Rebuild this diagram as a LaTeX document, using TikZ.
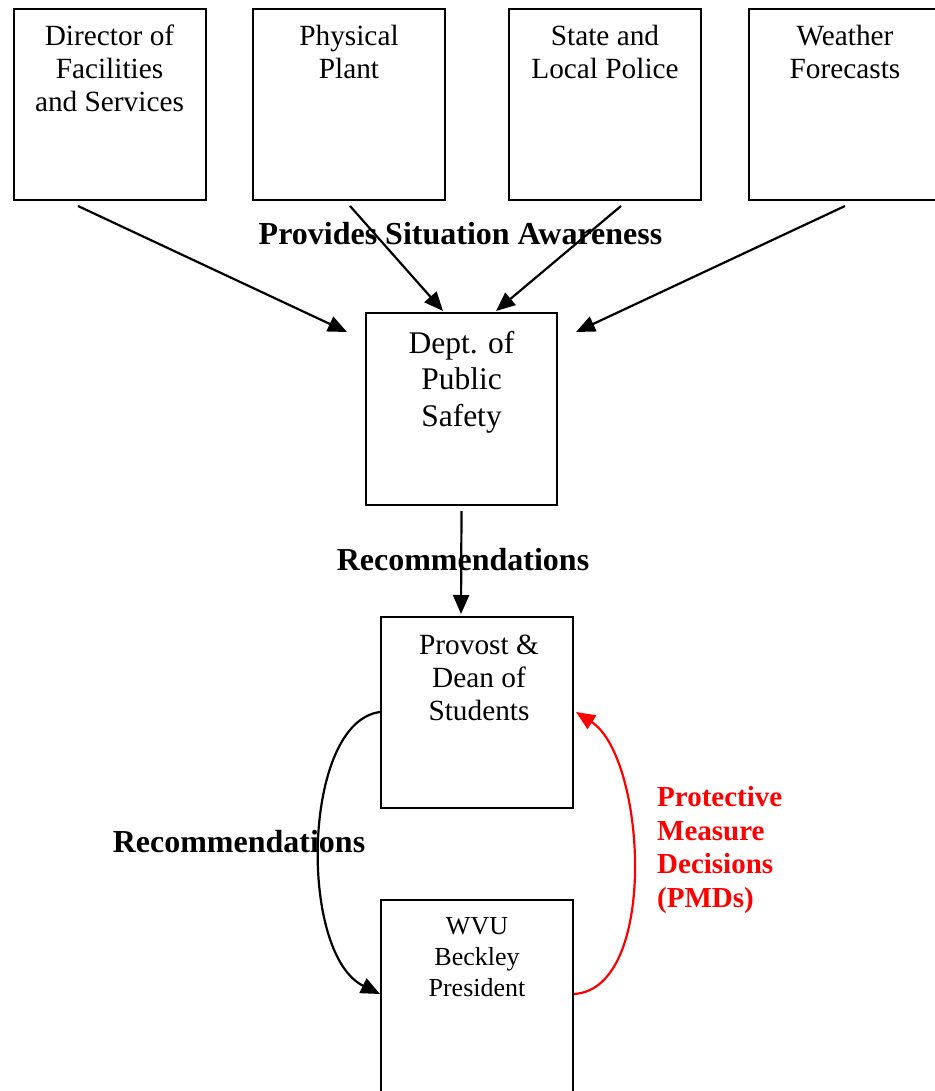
\documentclass[tikz,border=0pt]{standalone}
\usepackage{fontspec}
\setmainfont{Liberation Serif}
\usetikzlibrary{arrows.meta,calc}
\definecolor{pmdred}{RGB}{255,0,0}
\tikzset{
  box/.style={draw, line width=2pt, minimum width=192pt, minimum height=191pt, inner sep=0pt},
  txt/.style={anchor=north, align=center, inner sep=0pt, font=\fontsize{29.3}{33}\selectfont},
  lbl/.style={anchor=base, inner sep=0pt, font=\bfseries\fontsize{32}{36}\selectfont},
  arr/.style={line width=2.2pt, -{Triangle[length=19pt,width=16pt]}},
}
\newcommand{\firststrut}{\rule{0pt}{24pt}}
\begin{document}
\begin{tikzpicture}[x=1pt,y=-1pt]
\useasboundingbox (0,0) rectangle (934,1091);
% boxes
\node[box] (b1) at (109.5,104.5) {};
\node[box] (b2) at (349,104.5) {};
\node[box] (b3) at (605,104.5) {};
\node[box] (b4) at (845,104.5) {};
\node[box, minimum width=191pt, minimum height=192pt] (dps) at (461.5,409) {};
\node[box] (prov) at (477,712.5) {};
\node[box, minimum height=200pt] (pres) at (477,1000) {};
% box texts
\node[txt] (t1) at (109.5,21.5) {\firststrut Director of\\Facilities\\and Services};
\node[txt] (t2) at (349,21.5) {\firststrut Physical\\Plant};
\node[txt] (t3) at (605,21.5) {\firststrut State and\\Local Police};
\node[txt] (t4) at (845,21.5) {\firststrut Weather\\Forecasts};
\node[txt, font=\fontsize{31.5}{36.5}\selectfont] (t5) at (461.5,327) {\rule{0pt}{26pt}Dept. of\\Public\\Safety};
\node[txt] (t6) at (479,630.5) {\firststrut Provost \&\\Dean of\\Students};
\node[txt, font=\fontsize{26}{31}\selectfont] (t7) at (477,912) {\rule{0pt}{22pt}WVU\\Beckley\\President};
% labels
\node[lbl] (l1) at (460.5,244) {Provides Situation Awareness};
\node[lbl] (l2) at (463,570) {Recommendations};
\node[lbl] (l3) at (239,852) {Recommendations};
\node[txt, anchor=north west, align=left, font=\bfseries\fontsize{29}{33.5}\selectfont, text=pmdred] (l4) at (657,783) {\rule{0pt}{23.5pt}Protective\\Measure\\Decisions\\(PMDs)};
% connector ends
\coordinate (s1) at ($(b1.south)+(-31.5,5)$);
\coordinate (e1) at ($(dps.north west)+(-18,20)$);
\coordinate (s2) at ($(b2.south)+(1,5)$);
\coordinate (e2) at ($(dps.north)+(-18.5,-1)$);
\coordinate (s3) at ($(b3.south)+(16,5)$);
\coordinate (e3) at ($(dps.north)+(34.5,-1)$);
\coordinate (s4) at ($(b4.south)+(0,5)$);
\coordinate (e4) at ($(dps.north east)+(18,20)$);
\coordinate (s5) at ($(dps.south)+(0,5)$);
\coordinate (e5) at ($(prov.north)+(-16,-2)$);
\coordinate (pl) at ($(prov.north west)+(0,96)$);
\coordinate (pr) at ($(prov.north east)+(2,96)$);
\coordinate (ql) at ($(pres.north west)+(0,95)$);
\coordinate (qr) at ($(pres.north east)+(0,95)$);
% connectors
\draw[arr] (s1) -- (e1);
\draw[arr] (s2) -- (e2);
\draw[arr] (s3) -- (e3);
\draw[arr] (s4) -- (e4);
\draw[arr] (s5) -- (e5);
\draw[arr] (pl) .. controls ($(pl)+(-78,10)$) and ($(ql)+(-82,-40)$) .. (ql);
\draw[arr, draw=pmdred, -{Triangle[length=19pt,width=16pt,fill=pmdred]}] (qr) .. controls ($(qr)+(85,-5)$) and ($(pr)+(70,45)$) .. (pr);
\end{tikzpicture}
\end{document}
